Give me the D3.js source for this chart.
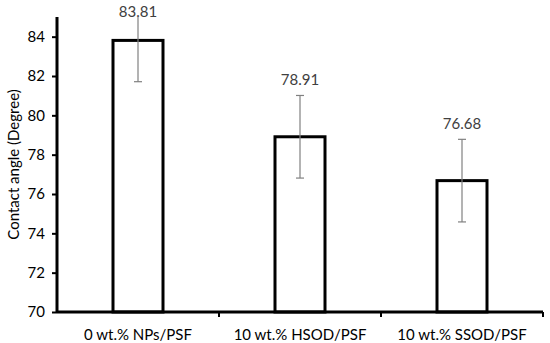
<!DOCTYPE html>
<html>
<head>
<meta charset="utf-8">
<script src="https://cdn.jsdelivr.net/npm/d3@7"></script>
<style>
  body { margin: 0; background: #fff; }
  text { font-family: Lato, "Noto Sans", sans-serif; }
</style>
</head>
<body>
<script>
// chart data
var categories = ["0 wt.% NPs/PSF", "10 wt.% HSOD/PSF", "10 wt.% SSOD/PSF"];
var angles = [83.81, 78.91, 76.68];
var errors = [2.1, 2.1, 2.1];
var yTicks = [70, 72, 74, 76, 78, 80, 82, 84];

var width = 550, height = 343;
var margin = {top: 17, right: 7, bottom: 31, left: 57};

var svg = d3.select("body").append("svg")
    .attr("width", width)
    .attr("height", height);

var x = d3.scaleBand()
    .domain(categories)
    .range([margin.left, width - margin.right])
    .paddingInner(0)
    .paddingOuter(0);

var y = d3.scaleLinear()
    .domain([70, 85])
    .range([height - margin.bottom, margin.top]);

var barWidth = 50;

// clip so error bars stop at the top of the plot
svg.append("clipPath").attr("id", "plotClip")
  .append("rect")
    .attr("x", margin.left)
    .attr("y", margin.top)
    .attr("width", width - margin.left - margin.right)
    .attr("height", height - margin.top - margin.bottom);

// bars
svg.selectAll(".bar")
    .data(angles)
  .enter().append("rect")
    .attr("class", "bar")
    .attr("x", function(d, i) { return x(categories[i]) + x.bandwidth() / 2 - barWidth / 2; })
    .attr("y", function(d) { return y(d); })
    .attr("width", barWidth)
    .attr("height", function(d) { return y(70) - y(d); })
    .attr("fill", "#fff")
    .attr("stroke", "#000")
    .attr("stroke-width", 3);

// error bars
var errG = svg.append("g").attr("clip-path", "url(#plotClip)");
angles.forEach(function(d, i) {
  var cx = x(categories[i]) + x.bandwidth() / 2;
  var top = y(d + errors[i]), bottom = y(d - errors[i]);
  errG.append("line")
      .attr("x1", cx).attr("x2", cx)
      .attr("y1", top).attr("y2", bottom)
      .attr("stroke", "#808080").attr("stroke-width", 1.2);
  [top, bottom].forEach(function(yy) {
    errG.append("line")
        .attr("x1", cx - 4).attr("x2", cx + 4)
        .attr("y1", yy).attr("y2", yy)
        .attr("stroke", "#808080").attr("stroke-width", 1.2);
  });
});

// value labels
svg.selectAll(".val")
    .data(angles)
  .enter().append("text")
    .attr("class", "val")
    .attr("x", function(d, i) { return x(categories[i]) + x.bandwidth() / 2; })
    .attr("y", function(d) { return Math.max(y(d) - 52, 17); })
    .attr("text-anchor", "middle")
    .attr("font-size", 15)
    .attr("fill", "#404040")
    .text(function(d) { return d.toFixed(2); });

// y axis
var yAxis = svg.append("g")
    .attr("transform", "translate(" + margin.left + ",0)")
    .call(d3.axisLeft(y).tickValues(yTicks).tickSize(5).tickPadding(7));
yAxis.select(".domain").attr("stroke", "#000").attr("stroke-width", 3)
    .attr("d", "M0," + margin.top + "V" + (height - margin.bottom));
yAxis.selectAll(".tick line").attr("stroke", "#000").attr("stroke-width", 2);
yAxis.selectAll(".tick text").attr("font-size", 15).attr("fill", "#000")
    .style("font-family", "Lato, sans-serif");

// x axis
var xAxis = svg.append("g")
    .attr("transform", "translate(0," + (height - margin.bottom) + ")")
    .call(d3.axisBottom(x).tickSize(0).tickPadding(17));
xAxis.select(".domain").attr("stroke", "#000").attr("stroke-width", 3)
    .attr("d", "M" + margin.left + ",0H" + (width - margin.right));
xAxis.selectAll(".tick text").attr("font-size", 15).attr("fill", "#000")
    .style("font-family", "Lato, sans-serif");

// category boundary ticks
var bounds = categories.map(function(c) { return x(c) + x.bandwidth(); });
xAxis.selectAll(".bound")
    .data(bounds)
  .enter().append("line")
    .attr("class", "bound")
    .attr("x1", function(d) { return d; })
    .attr("x2", function(d) { return d; })
    .attr("y1", 0).attr("y2", 5)
    .attr("stroke", "#000").attr("stroke-width", 2);

// y axis title
svg.append("text")
    .attr("transform", "translate(19," + ((margin.top + height - margin.bottom) / 2) + ") rotate(-90)")
    .attr("text-anchor", "middle")
    .attr("font-size", 15)
    .attr("fill", "#000")
    .text("Contact angle (Degree)");
</script>
</body>
</html>
